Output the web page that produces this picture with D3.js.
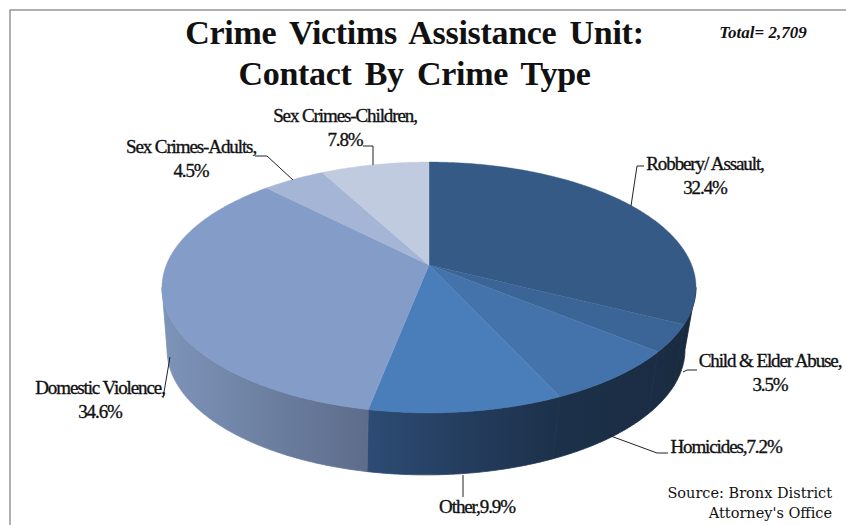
<!DOCTYPE html>
<html><head><meta charset="utf-8">
<script src="https://cdn.jsdelivr.net/npm/d3@7"></script>
<style>
html,body{margin:0;padding:0;background:#fff;}
svg{display:block;}
text{font-family:"Liberation Serif",serif;fill:#111;}
</style></head><body>
<svg id="c" width="846" height="525"></svg>
<script>
const categories=["Robbery/ Assault","Child & Elder Abuse","Homicides","Other","Domestic Violence","Sex Crimes-Adults","Sex Crimes-Children"];
const values=[32.4,3.5,7.2,9.9,34.6,4.5,7.8];
const labelLines=[["Robbery/ Assault,","32.4%"],["Child & Elder Abuse,","3.5%"],["Homicides,7.2%"],["Other,9.9%"],["Domestic Violence,","34.6%"],["Sex Crimes-Adults,","4.5%"],["Sex Crimes-Children,","7.8%"]];
const topColors=["#355a86","#3b6596","#4473ab","#4a7ebb","#839dc8","#a5b5d6","#c1cbe0"];
const sideColors=[["#16273a","#1a2b40"],["#1a2b40","#1a2d44"],["#1a2d44","#1c3049"],["#1c3049","#2d4b74"],["#5d6c8a","#7d94b9"],["#8394b5","#8394b5"],["#98a3b8","#98a3b8"]];
const titleLines=["Crime Victims Assistance Unit:","Contact By Crime Type"];
const sourceLines=["Source: Bronx District","Attorney's Office"];

const svg=d3.select("#c");
const defs=svg.append("defs");
const apexX=429,apexY=265,A=262.7,B=121.4,K=0.179,depth=62,bottomScale=0.97,bottomShift=-3;
function proj(a,lift){ // a = clockwise angle from 12 o'clock
  const u=Math.sin(a),v=-Math.cos(a),d=1-K*v;
  const s=lift?bottomScale:1;
  return [apexX+(lift?bottomShift:0)+s*A*u/d,apexY+B*v/d+(lift?depth:0)];
}
const pie=d3.pie().sort(null).value(d=>d)(values);
const line=d3.line();
function arcPts(a0,a1,lift){
  const n=Math.max(2,Math.ceil(Math.abs(a1-a0)/0.01));
  return d3.range(n+1).map(i=>proj(a0+(a1-a0)*i/n,lift));
}
// side wall between the two silhouette tangent angles of the rim
const tangent=Math.acos(-K);
const frontStart=Math.PI-Math.acos(K), frontEnd=2*Math.PI-frontStart;
pie.forEach((p,i)=>{
  const a0=Math.max(p.startAngle,frontStart),a1=Math.min(p.endAngle,frontEnd);
  if(a1<=a0)return;
  const t=arcPts(a0,a1,false),b=arcPts(a1,a0,true);
  const xs=t.map(d=>d[0]);
  const id="side"+i,g=defs.append("linearGradient").attr("id",id).attr("gradientUnits","userSpaceOnUse")
    .attr("x1",d3.min(xs)).attr("x2",d3.max(xs)).attr("y1",0).attr("y2",0);
  g.append("stop").attr("offset",0).attr("stop-color",sideColors[i][1]);
  g.append("stop").attr("offset",1).attr("stop-color",sideColors[i][0]);
  svg.append("path").attr("d",line(t.concat(b))+"Z").attr("fill",`url(#${id})`).attr("stroke",`url(#${id})`).attr("stroke-width",0.8);
});
// top face
pie.forEach((p,i)=>{
  const pts=[[apexX,apexY]].concat(arcPts(p.startAngle,p.endAngle,false));
  svg.append("path").attr("d",line(pts)+"Z").attr("fill",topColors[i]).attr("stroke",topColors[i]).attr("stroke-width",0.4);
});
// frame
svg.append("path").attr("d",line([[10,525],[10,10],[846,10]])).attr("fill","none").attr("stroke","#969696").attr("stroke-width",1.5);
// title
titleLines.forEach((t,i)=>svg.append("text").attr("x",414.5).attr("y",44+i*41).attr("text-anchor","middle")
  .attr("font-size",34).attr("font-weight","bold").attr("letter-spacing",-0.3).attr("word-spacing",5).text(t));
svg.append("text").attr("x",763).attr("y",38).attr("text-anchor","middle").attr("font-size",17).attr("font-style","italic").attr("font-weight","bold").text("Total= 2,709");
// leader lines and labels
const leaders=[[[631,206],[637,166],[644,166]],[[683,372],[687,370],[697,370]],[[608,435],[657,453],[668,453]],[[463,475],[463,497]],[[170,357],[163,398]],[[293,180],[267,156],[255,156]],[[373,165],[373,146],[363,146]]];
leaders.forEach(l=>svg.append("path").attr("d",line(l)).attr("fill","none").attr("stroke","#222").attr("stroke-width",1));
const labelPos=[[705,170],[770,367],[726,453],[477,513],[100,394],[191,153],[345,122]];
labelLines.forEach((ls,i)=>ls.forEach((t,j)=>svg.append("text").attr("x",labelPos[i][0]).attr("y",labelPos[i][1]+j*24).attr("text-anchor","middle")
  .attr("font-size",19).attr("letter-spacing",-1.1).attr("stroke","#111").attr("stroke-width",0.35).text(t)));
sourceLines.forEach((t,i)=>svg.append("text").attr("x",832).attr("y",498+i*20).attr("text-anchor","end").attr("font-size",14.5).attr("letter-spacing",0).attr("fill","#333").style("font-family","'DejaVu Serif',serif").text(t));
</script></body></html>
